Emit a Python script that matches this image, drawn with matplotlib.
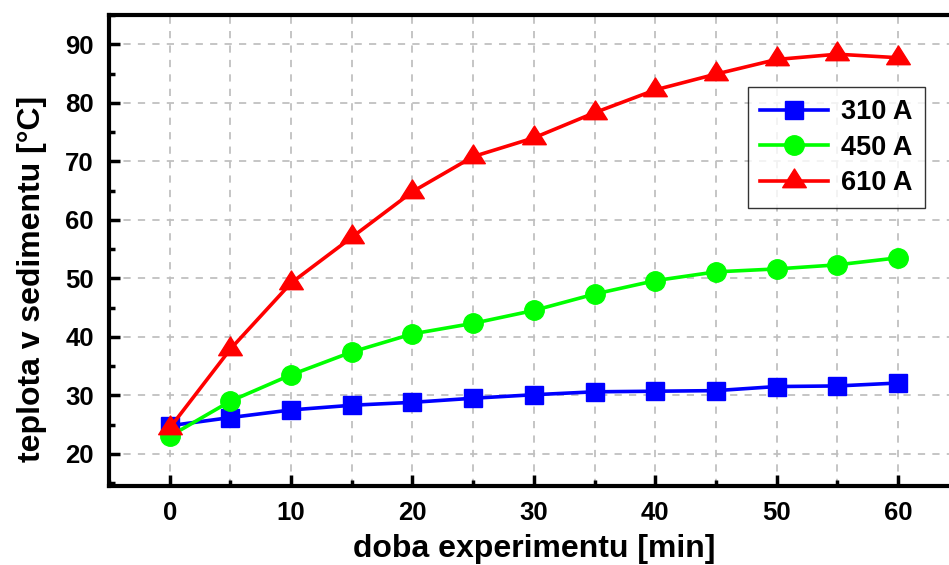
import matplotlib
matplotlib.use('Agg')
from matplotlib import pyplot as plt
from matplotlib.path import Path
from matplotlib.ticker import MultipleLocator

plt.rcParams['font.family'] = ['Liberation Sans', 'DejaVu Sans']
plt.rcParams['font.weight'] = 'bold'

# doba experimentu [min]
time_min = [0, 5, 10, 15, 20, 25, 30, 35, 40, 45, 50, 55, 60]

# teplota v sedimentu [°C]
temp_310 = [24.8, 26.2, 27.5, 28.3, 28.8, 29.5, 30.1, 30.6, 30.7, 30.8, 31.5, 31.6, 32.1]
temp_450 = [23.0, 29.0, 33.5, 37.4, 40.5, 42.3, 44.5, 47.3, 49.6, 51.1, 51.6, 52.3, 53.5]
temp_610 = [24.4, 37.9, 49.2, 57.0, 64.8, 70.8, 74.0, 78.3, 82.2, 84.9, 87.4, 88.3, 87.7]

labels = ['310 A', '450 A', '610 A']

# Origin-style triangle, wider than tall, centred on its centroid
tri = Path([(0, 12.7), (-12, -6.3), (12, -6.3), (0, 12.7)],
           [Path.MOVETO, Path.LINETO, Path.LINETO, Path.CLOSEPOLY])

fig = plt.figure(figsize=(9.49, 5.65), dpi=100)
W, H = 949, 565
ax = fig.add_axes([109 / W, (H - 486) / H, (958.7 - 109) / W, (486 - 15) / H])

ax.plot(time_min, temp_310, color='#0000ff', lw=2.6, marker='s', ms=12.6,
        mec='#0000ff', label=labels[0], zorder=3)
ax.plot(time_min, temp_450, color='#00ff00', lw=2.6, marker='o', ms=14,
        mec='#00ff00', label=labels[1], zorder=3)
ax.plot(time_min, temp_610, color='#ff0000', lw=2.6, marker=tri, ms=18,
        mec='#ff0000', label=labels[2], zorder=3)

ax.set_xlim(-5, 65)
ax.set_ylim(14.5, 95)
ax.xaxis.set_minor_locator(MultipleLocator(5))
ax.yaxis.set_minor_locator(MultipleLocator(5))
ax.set_xticks([0, 10, 20, 30, 40, 50, 60])
ax.set_yticks([20, 30, 40, 50, 60, 70, 80, 90])

ax.grid(True, which='both', axis='x', color='#c0c0c0', ls=(0, (4, 4)), lw=1.3)
ax.grid(True, which='major', axis='y', color='#c0c0c0', ls=(0, (4, 4)), lw=1.3)
ax.set_axisbelow(True)

for s in ax.spines.values():
    s.set_linewidth(3)
ax.tick_params(which='major', direction='in', length=8, width=2.5,
               labelsize=18.5, pad=11, top=False, right=False)
ax.tick_params(which='minor', direction='in', length=4.5, width=2.5,
               top=False, right=False)

ax.set_xlabel('doba experimentu [min]', fontsize=23, fontweight='bold', labelpad=6)
ax.set_ylabel('teplota v sedimentu [°C]', fontsize=23, fontweight='bold')
ax.yaxis.set_label_coords((47 - 109) / (958.7 - 109), (486 - 279) / (486 - 15))

leg = ax.legend(loc='upper left', bbox_to_anchor=((748 - 109) / (958.7 - 109), (486 - 87) / (486 - 15)),
                fontsize=19.5, frameon=True, fancybox=False, edgecolor='black',
                handlelength=2.5, borderpad=0.45, labelspacing=0.35, handletextpad=0.5,
                borderaxespad=0)
leg.get_frame().set_linewidth(1)
for t in leg.get_texts():
    t.set_fontweight('bold')

fig.savefig('out.png', dpi=100)
